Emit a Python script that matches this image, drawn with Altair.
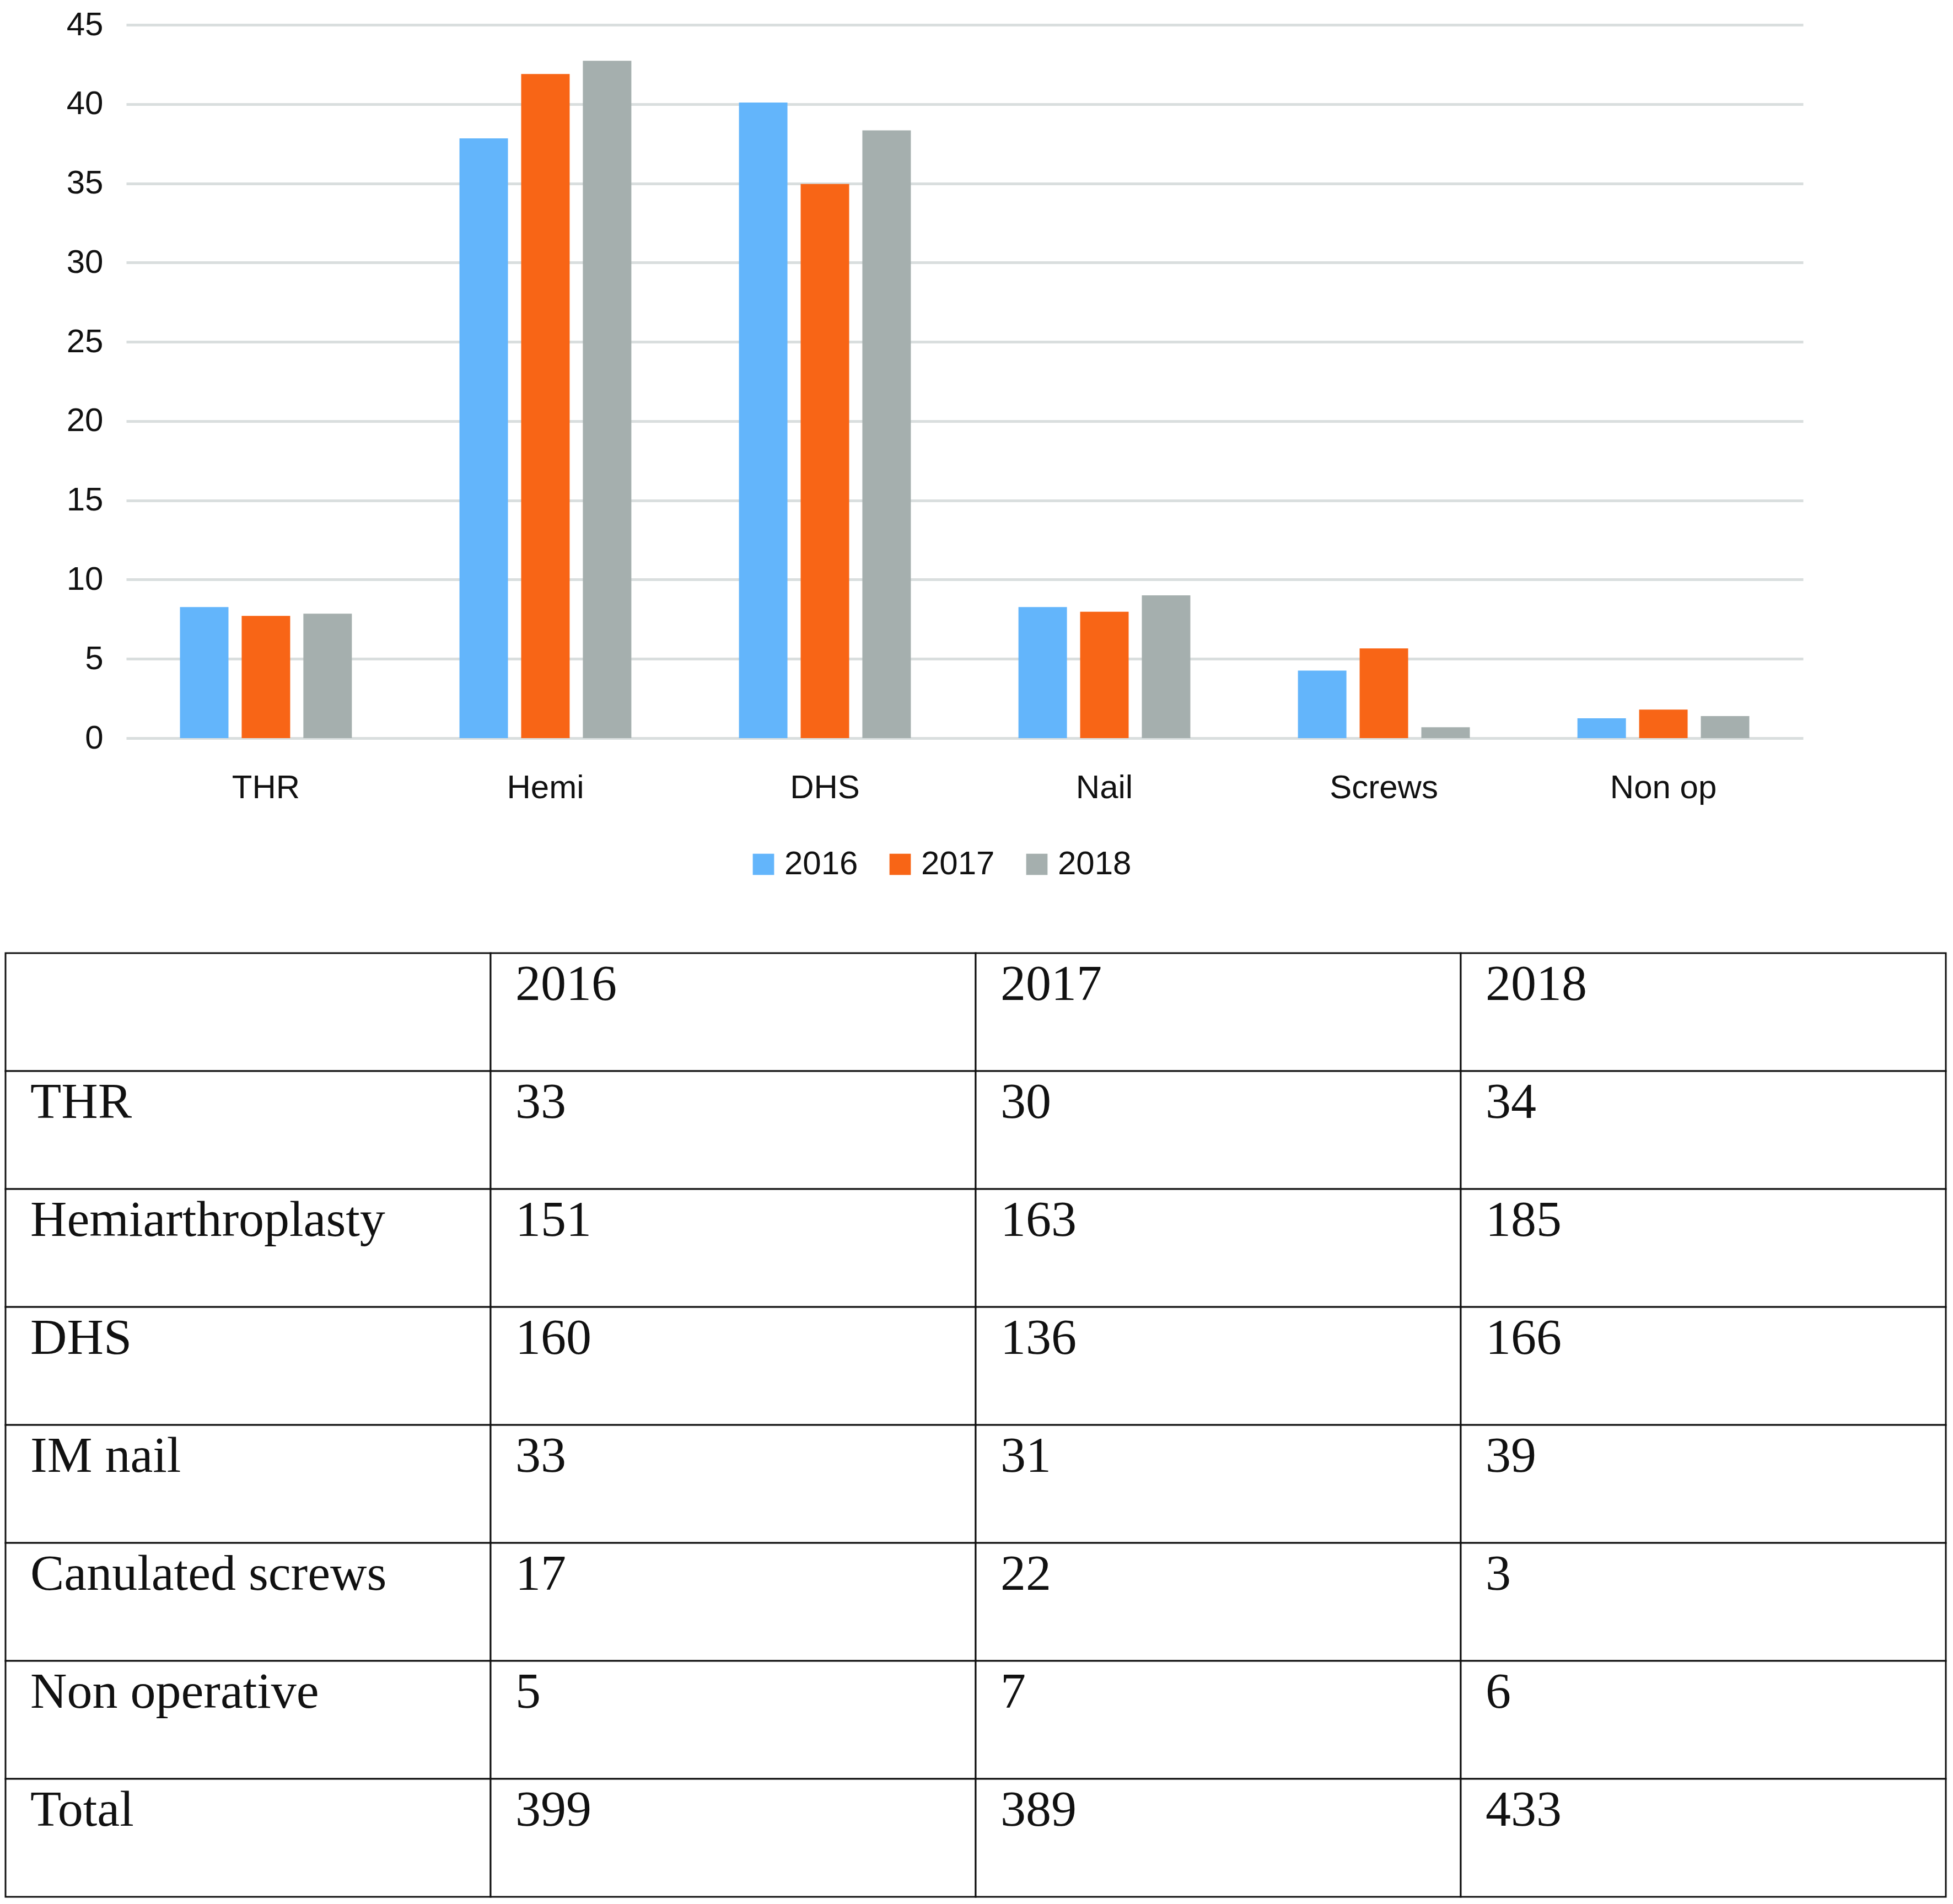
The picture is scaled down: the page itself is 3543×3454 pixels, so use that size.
import altair as alt
import pandas as pd

# ---- bar chart data (percent of cases per year) ----
categories = ["THR", "Hemi", "DHS", "Nail", "Screws", "Non op"]
years = ["2016", "2017", "2018"]
pct_2016 = [8.27, 37.84, 40.10, 8.27, 4.26, 1.25]
pct_2017 = [7.71, 41.90, 34.96, 7.97, 5.66, 1.80]
pct_2018 = [7.85, 42.73, 38.34, 9.01, 0.69, 1.39]
colors = ["#63B5FB", "#F86516", "#A5AFAE"]
y_ticks = [0, 5, 10, 15, 20, 25, 30, 35, 40, 45]

# ---- table data ----
header = ["", "2016", "2017", "2018"]
row_labels = ["THR", "Hemiarthroplasty", "DHS", "IM nail",
              "Canulated screws", "Non operative", "Total"]
count_2016 = [33, 151, 160, 33, 17, 5, 399]
count_2017 = [30, 163, 136, 31, 22, 7, 389]
count_2018 = [34, 185, 166, 39, 3, 6, 433]

# ---- build tables ----
bar_rows = []
for yr, vals in zip(years, [pct_2016, pct_2017, pct_2018]):
    for cat, v in zip(categories, vals):
        bar_rows.append({"category": cat, "year": yr, "value": v})
bar_df = pd.DataFrame(bar_rows)

table_rows = [header] + [
    [lab, str(a), str(b), str(c)]
    for lab, a, b, c in zip(row_labels, count_2016, count_2017, count_2018)
]
cells = []
for r, row in enumerate(table_rows):
    for c, txt in enumerate(row):
        cells.append({"c0": c, "c1": c + 1, "r0": r, "r1": r + 1, "text": txt})
cell_df = pd.DataFrame(cells)

SANS = "Liberation Sans"
SERIF = "Liberation Serif"

# plot area of the bar chart: 3042 x 1294 px
W, H = 3042, 1294
# table placed below, through its own scales (pixel range relative to plot area)
TBL_X = [-219, 3301]
TBL_Y = [1684, 1684 + 8 * 214]

bars = alt.Chart(bar_df).mark_bar().encode(
    x=alt.X(
        "category:N", sort=categories,
        scale=alt.Scale(paddingInner=0.385, paddingOuter=0.1923),
        axis=alt.Axis(title=None, labelAngle=0, labelFontSize=60, labelFont=SANS,
                      labelColor="#111111", domain=False, ticks=False, tickSize=0,
                      labelPadding=90, labelBaseline="middle", labelLimit=0,
                      grid=False),
    ),
    xOffset=alt.XOffset("year:N", sort=years,
                        scale=alt.Scale(paddingInner=0.214, paddingOuter=0)),
    y=alt.Y(
        "value:Q", scale=alt.Scale(domain=[0, 45], nice=False),
        axis=alt.Axis(values=y_ticks, title=None, labelFontSize=60, labelFont=SANS,
                      labelColor="#111111", domain=False, ticks=False, tickSize=0,
                      labelPadding=42, gridColor="#D9DEDE",
                      gridWidth=5, gridOpacity=1),
    ),
    color=alt.Color(
        "year:N", scale=alt.Scale(domain=years, range=colors),
        legend=alt.Legend(title=None, orient="none", legendX=1126, legendY=1493,
                          direction="horizontal", symbolType="square",
                          symbolSize=1500, symbolStrokeWidth=0, labelFontSize=60,
                          labelFont=SANS, labelColor="#111111", labelOffset=8,
                          columnPadding=46, padding=0),
    ),
)

tx = alt.X("c0:Q", scale=alt.Scale(domain=[0, 4], nice=False, zero=False, range=TBL_X),
           axis=None)
ty = alt.Y("r0:Q", scale=alt.Scale(domain=[0, 8], nice=False, zero=False, range=TBL_Y),
           axis=None)

rects = alt.Chart(cell_df).mark_rect(
    fill="white", stroke="#111111", strokeWidth=3
).encode(x=tx, x2="c1:Q", y=ty, y2="r1:Q")

texts = alt.Chart(cell_df).mark_text(
    align="left", baseline="alphabetic", dx=45, dy=85,
    font=SERIF, fontSize=92, color="#111111",
).encode(x=tx, y=ty, text="text:N")

table = alt.layer(rects, texts)

chart = alt.layer(bars, table).resolve_scale(
    x="independent", y="independent"
).properties(
    width=W, height=H, padding={"top": 7, "left": 0, "right": 0, "bottom": 0},
    background="white",
).configure_view(stroke=None)

chart.save("out.html", embed_options={"renderer": "svg", "actions": False})
